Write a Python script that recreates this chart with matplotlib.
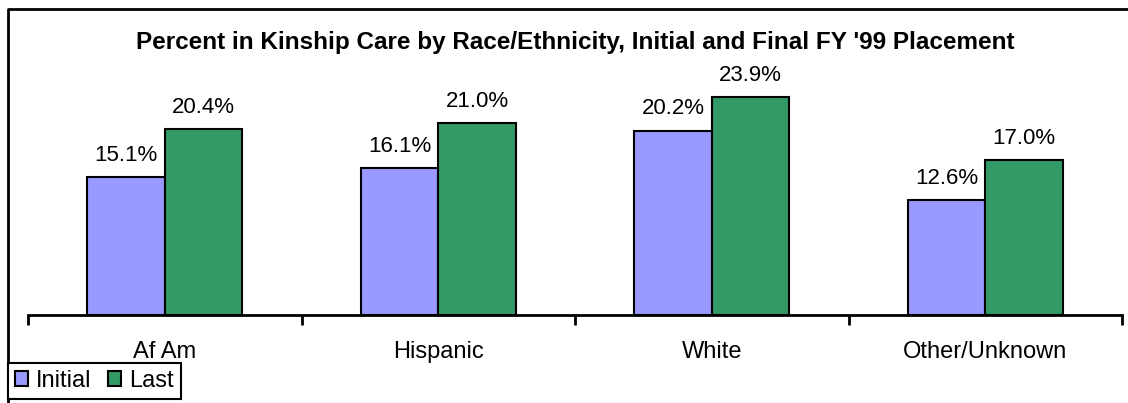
import matplotlib.pyplot as plt
from matplotlib.lines import Line2D
import numpy as np

# 数据
categories = ['Af Am', 'Hispanic', 'White', 'Other/Unknown']
initial = [15.1, 16.1, 20.2, 12.6]
last = [20.4, 21.0, 23.9, 17.0]

plt.rcParams['font.family'] = ['Liberation Sans', 'DejaVu Sans']

W, H = 1128, 403
fig = plt.figure(figsize=(W / 100, H / 100), dpi=100)
ax = fig.add_axes([28 / W, 1 - 315 / H, (1122 - 28) / W, (315 - 41) / H])

x = np.arange(len(categories))
bw = 0.283
b1 = ax.bar(x - bw / 2, initial, bw, color='#9999FF', edgecolor='black', linewidth=1.5, label='Initial')
b2 = ax.bar(x + bw / 2, last, bw, color='#339966', edgecolor='black', linewidth=1.5, label='Last')

for bars, vals in ((b1, initial), (b2, last)):
    for b, v in zip(bars, vals):
        ax.annotate(f'{v:.1f}%', (b.get_x() + b.get_width() / 2, v),
                    xytext=(0, 8), textcoords='offset points',
                    ha='center', va='bottom', fontsize=16)

ax.set_xlim(-0.5, 3.5)
ax.set_ylim(0, 30)
ax.set_yticks([])
for s in ['top', 'right', 'left']:
    ax.spines[s].set_visible(False)
ax.spines['bottom'].set_linewidth(2)

ax.set_xticks(x)
ax.set_xticklabels(categories, fontsize=17)
ax.tick_params(axis='x', which='major', length=0, pad=19)
ax.set_xticks(np.arange(-0.5, 4, 1), minor=True)
ax.tick_params(axis='x', which='minor', length=7, width=2, direction='out')

fig.text(575 / W, 1 - 42 / H, "Percent in Kinship Care by Race/Ethnicity, Initial and Final FY '99 Placement",
         ha='center', va='center', fontsize=17.5, fontweight='bold')

# 外框
fig.add_artist(Line2D([8 / W, 8 / W, 1.0], [0.0, 1 - 9 / H, 1 - 9 / H],
                      transform=fig.transFigure, color='black', linewidth=2))

leg = fig.legend(loc='lower left', bbox_to_anchor=(8 / W, 4 / H), fontsize=17,
                 ncol=2, fancybox=False, framealpha=1, edgecolor='black',
                 handlelength=0.55, handleheight=0.55, handletextpad=0.35,
                 columnspacing=0.7, borderpad=0.3, borderaxespad=0)
leg.get_frame().set_linewidth(1.5)

fig.savefig('out.png', dpi=100)
